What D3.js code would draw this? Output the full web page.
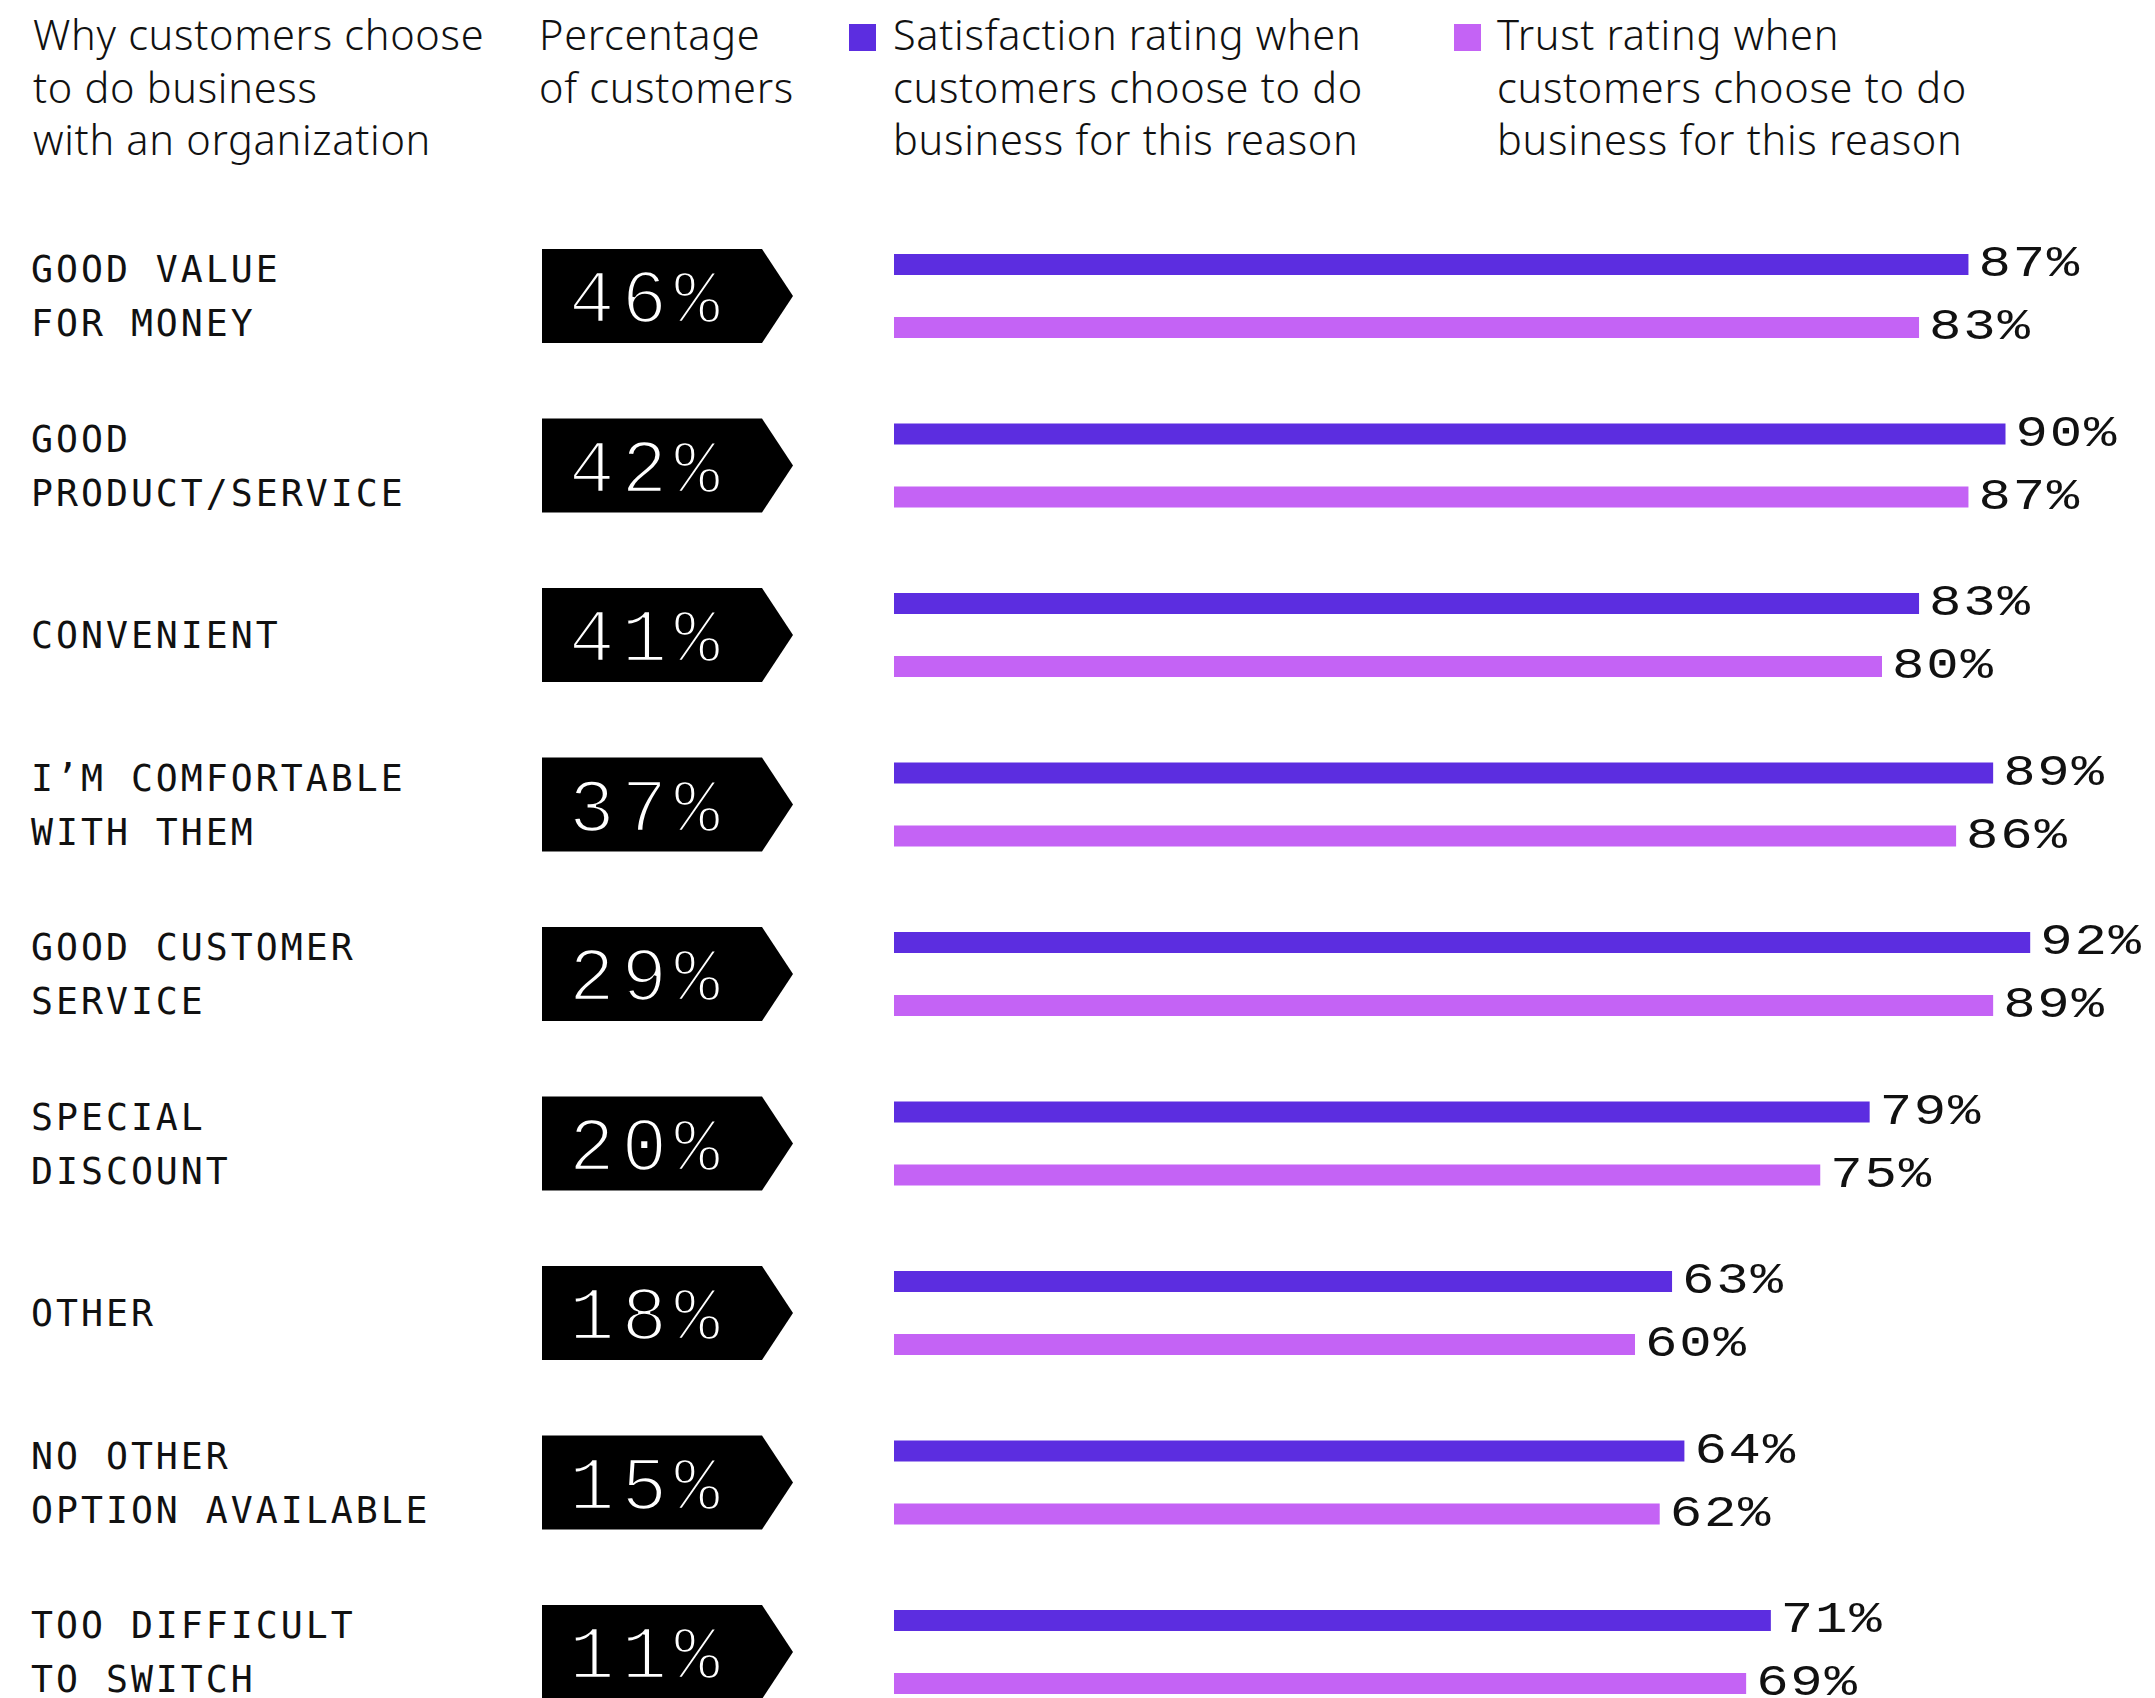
<!DOCTYPE html>
<html>
<head>
<meta charset="utf-8">
<script src="https://cdn.jsdelivr.net/npm/d3@7"></script>
<style>
  html, body { margin: 0; padding: 0; background: #fff; }
  svg { display: block; }
</style>
</head>
<body>
<svg id="chart" width="2155" height="1698"></svg>
<script>
// Reasons customers give for choosing an organization (label lines)
const reasons = [
  ["GOOD VALUE", "FOR MONEY"],
  ["GOOD", "PRODUCT/SERVICE"],
  ["CONVENIENT"],
  ["I\u2019M COMFORTABLE", "WITH THEM"],
  ["GOOD CUSTOMER", "SERVICE"],
  ["SPECIAL", "DISCOUNT"],
  ["OTHER"],
  ["NO OTHER", "OPTION AVAILABLE"],
  ["TOO DIFFICULT", "TO SWITCH"]
];
// Share of customers citing each reason (%)
const shareOfCustomers = [46, 42, 41, 37, 29, 20, 18, 15, 11];
// Satisfaction rating among those customers (%)
const satisfaction = [87, 90, 83, 89, 92, 79, 63, 64, 71];
// Trust rating among those customers (%)
const trust = [83, 87, 80, 86, 89, 75, 60, 62, 69];

const headerReason = ["Why customers choose", "to do business", "with an organization"];
const headerShare = ["Percentage", "of customers"];
const legendSatisfaction = ["Satisfaction rating when", "customers choose to do", "business for this reason"];
const legendTrust = ["Trust rating when", "customers choose to do", "business for this reason"];

const COLOR_SAT = "#5c2de0";
const COLOR_TRUST = "#c463f5";
const SANS = "'Noto Sans', 'Open Sans', sans-serif";
const MONO = "'DejaVu Sans Mono', 'Liberation Mono', monospace";
const NUM = "'Liberation Mono', 'DejaVu Sans Mono', monospace";

const svg = d3.select("#chart");
const ids = reasons.map((d, i) => i);

// Row centres
const y = d3.scalePoint().domain(ids).range([296, 1652]);
// Rating bars
const x = d3.scaleLinear().domain([0, 100]).range([894, 2129]);

// ---- Column headers ----
function multiline(g, lines, x0, y0, lh) {
  const t = g.append("text")
    .attr("x", x0).attr("y", y0)
    .attr("font-family", SANS).attr("font-size", 41.5)
    .attr("font-weight", 300)
    .attr("letter-spacing", 0.7)
    .attr("fill", "#111");
  lines.forEach((l, i) => t.append("tspan").attr("x", x0).attr("y", y0 + i * lh).text(l));
  return t;
}
const header = svg.append("g").attr("class", "header");
multiline(header, headerReason, 33, 50, 52.5);
multiline(header, headerShare, 539, 50, 52.5);

// Legend
const legend = [
  { lines: legendSatisfaction, color: COLOR_SAT, sx: 849, tx: 893 },
  { lines: legendTrust, color: COLOR_TRUST, sx: 1454, tx: 1497 }
];
legend.forEach(l => {
  header.append("rect").attr("x", l.sx).attr("y", 24).attr("width", 27).attr("height", 27).attr("fill", l.color);
  multiline(header, l.lines, l.tx, 50, 52.5);
});

// ---- Rows ----
const rows = svg.append("g").selectAll("g.row").data(ids).join("g")
  .attr("class", "row")
  .attr("transform", i => `translate(0,${y(i)})`);

// Reason label, vertically centred on the row
rows.append("text")
  .attr("font-family", MONO).attr("font-size", 36.5)
  .attr("letter-spacing", 3).attr("fill", "#111")
  .each(function (i) {
    const lines = reasons[i];
    const lh = 54;
    const first = 13.3 - (lines.length - 1) * lh / 2;
    d3.select(this).selectAll("tspan").data(lines).join("tspan")
      .attr("x", 31).attr("y", (d, k) => first + k * lh).text(d => d);
  });

// Arrow-shaped badge with share of customers
const badge = d3.path();
badge.moveTo(542, -47); badge.lineTo(762, -47); badge.lineTo(793, 0);
badge.lineTo(762, 47); badge.lineTo(542, 47); badge.closePath();
rows.append("path").attr("d", badge.toString()).attr("fill", "#000");
rows.append("text")
  .attr("x", 569).attr("y", 26)
  .attr("font-family", NUM).attr("font-size", 76)
  .attr("letter-spacing", 7)
  .attr("fill", "#fff").attr("stroke", "#000").attr("stroke-width", 2.6)
  .attr("paint-order", "normal")
  .text(i => shareOfCustomers[i] + "%");

// Two rating bars per row
const series = [
  { values: satisfaction, color: COLOR_SAT, dy: -31.5 },
  { values: trust, color: COLOR_TRUST, dy: 31.5 }
];
const barH = 21;
series.forEach(s => {
  rows.append("rect")
    .attr("x", x(0)).attr("y", s.dy - barH / 2)
    .attr("width", i => x(s.values[i]) - x(0))
    .attr("height", barH)
    .attr("fill", s.color);
  rows.append("text")
    .attr("transform", i => `translate(${x(s.values[i]) + 10},${s.dy + barH / 2 + 1}) scale(1.2,1)`)
    .attr("font-family", NUM).attr("font-size", 45)
    .attr("letter-spacing", 1.5).attr("fill", "#111")
    .text(i => s.values[i] + "%");
});
</script>
</body>
</html>
